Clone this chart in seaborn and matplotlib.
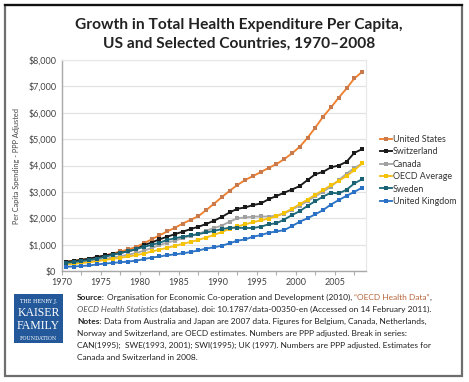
import numpy as np
import pandas as pd
import matplotlib
matplotlib.use("Agg")
import matplotlib.pyplot as plt
import seaborn as sns
from matplotlib.patches import Rectangle
from matplotlib.lines import Line2D

# values (US$ per capita, PPP adjusted)
years = list(range(1970, 2009))
united_states = [360, 390, 430, 470, 520, 590, 660, 740, 820, 910,
                 1050, 1200, 1350, 1500, 1640, 1800, 1940, 2080, 2310, 2550,
                 2800, 3040, 3260, 3450, 3600, 3750, 3910, 4050, 4240, 4460,
                 4710, 5050, 5440, 5850, 6200, 6570, 6920, 7300, 7550]
switzerland = [350, 380, 420, 470, 530, 590, 640, 690, 750, 820,
               980, 1080, 1200, 1300, 1400, 1490, 1590, 1680, 1780, 1910,
               2050, 2220, 2360, 2410, 2500, 2560, 2720, 2840, 2970, 3090,
               3220, 3450, 3670, 3760, 3930, 4000, 4140, 4480, 4620]
canada = [290, 310, 340, 360, 400, 460, 510, 560, 620, 680,
          770, 870, 980, 1080, 1150, 1250, 1330, 1400, 1530, 1630,
          1720, 1870, 2000, 2030, 2060, 2070, 2060, 2100, 2180, 2330,
          2480, 2650, 2830, 3010, 3200, 3440, 3690, 3900, 4080]
oecd_average = [250, 270, 300, 330, 370, 420, 460, 500, 550, 600,
                660, 740, 810, 880, 950, 1030, 1100, 1180, 1270, 1370,
                1480, 1600, 1690, 1770, 1850, 1920, 1990, 2070, 2200, 2360,
                2530, 2710, 2890, 3070, 3250, 3420, 3600, 3820, 4080]
sweden = [310, 340, 380, 420, 470, 540, 610, 680, 750, 830,
          910, 990, 1070, 1180, 1240, 1300, 1350, 1400, 1460, 1520,
          1590, 1640, 1640, 1630, 1630, 1680, 1770, 1810, 1950, 2120,
          2270, 2470, 2650, 2820, 2970, 2940, 3080, 3320, 3480]
united_kingdom = [160, 170, 190, 210, 250, 280, 310, 330, 360, 390,
                  450, 510, 550, 600, 630, 670, 720, 780, 850, 900,
                  960, 1050, 1150, 1200, 1300, 1360, 1450, 1500, 1550, 1700,
                  1870, 2000, 2150, 2310, 2520, 2690, 2850, 3000, 3160]

countries = ["United States", "Switzerland", "Canada", "OECD Average", "Sweden", "United Kingdom"]
series = [united_states, switzerland, canada, oecd_average, sweden, united_kingdom]
line_colors = ["#f0812e", "#1a1a1a", "#a8a8a8", "#f3bf1c", "#1e6b7c", "#2e75c6"]
marker_colors = ["#c97a4c", "#1a1a1a", "#a0a0a0", "#f5c400", "#1b6174", "#2a70c4"]

year_ticks = [1970, 1975, 1980, 1985, 1990, 1995, 2000, 2005]
y_ticks = [0, 1000, 2000, 3000, 4000, 5000, 6000, 7000, 8000]

df = pd.DataFrame({
    "year": years * len(countries),
    "spend": np.concatenate(series),
    "country": np.repeat(countries, len(years)),
})

plt.rcParams["font.family"] = ["Lato", "DejaVu Sans"]

fig = plt.figure(figsize=(4.69, 3.82), dpi=100)
ax = fig.add_axes([62 / 469, 1 - 271 / 382, (366 - 62) / 469, (271 - 60) / 382])

sns.lineplot(data=df, x="year", y="spend", hue="country", hue_order=countries,
             palette=dict(zip(countries, line_colors)), marker="s", markersize=2.3,
             markeredgewidth=0, linewidth=1.35, legend=False, ax=ax)

for ln, mc in zip(ax.lines, marker_colors):
    ln.set_markerfacecolor(mc)

# axis cosmetics
ax.set_xlim(1969.5, 2008.5)
ax.set_ylim(0, 8000)
ax.set_xticks([y - 0.5 for y in year_ticks])
ax.set_xticklabels([str(y) for y in year_ticks])
ax.set_xticks([y + 2.0 for y in year_ticks], minor=True)
ax.set_yticks(y_ticks)
ax.set_yticklabels(["${:,}".format(v) for v in y_ticks])
ax.tick_params(axis="x", which="both", length=3, width=0.8, color="#b0b0b0",
               labelsize=6.5, labelcolor="#444444", pad=2)
ax.tick_params(axis="y", length=0, labelsize=6.5, labelcolor="#444444", pad=4)
ax.grid(axis="y", color="#e2e2e2", linewidth=0.9)
ax.set_axisbelow(True)
for side in ["left", "bottom"]:
    ax.spines[side].set_color("#a8a8a8")
    ax.spines[side].set_linewidth(1.0)
for side in ["top", "right"]:
    ax.spines[side].set_color("#e8e8e8")
    ax.spines[side].set_linewidth(0.9)
ax.set_xlabel("")
ax.set_ylabel("Per Capita Spending - PPP Adjusted", fontsize=5.3, color="#444444", labelpad=6)

# legend on the right
handles = [Line2D([0], [0], color=c, marker="s", markersize=2.3, markeredgewidth=0,
                  markerfacecolor=m, linewidth=1.35) for c, m in zip(line_colors, marker_colors)]
fig.legend(handles, countries, loc="upper left", bbox_to_anchor=(372 / 469, 1 - 127 / 382),
           frameon=False, fontsize=6.4, labelspacing=0.38, handlelength=1.35,
           handletextpad=0.1, labelcolor="#333333")

# title
fig.text(0.51, 1 - 25 / 382, "Growth in Total Health Expenditure Per Capita,",
         ha="center", va="center", fontsize=11.2, fontweight="bold", color="#222222")
fig.text(0.51, 1 - 44 / 382, "US and Selected Countries, 1970\u20132008",
         ha="center", va="center", fontsize=11.2, fontweight="bold", color="#222222")

# frame around the whole figure
fig.patches.append(Rectangle((5 / 469, 6 / 382), 457 / 469, 371 / 382, transform=fig.transFigure,
                             fill=False, edgecolor="#6e6e6e", linewidth=1.6))
fig.lines.append(Line2D([5 / 469, 462 / 469], [1 - 5 / 382, 1 - 5 / 382],
                        transform=fig.transFigure, color="#111111", linewidth=1.6))

# logo
fig.patches.append(Rectangle((14 / 469, 1 - 343 / 382), 49 / 469, 49 / 382,
                             transform=fig.transFigure, facecolor="#23599b", edgecolor="none"))
logo_x = 38.5 / 469
fig.text(logo_x, 1 - 301 / 382, "THE HENRY J.", ha="center", va="center", fontsize=3.6,
         color="white", family="DejaVu Serif")
fig.text(logo_x, 1 - 313 / 382, "KAISER", ha="center", va="center", fontsize=8.5,
         color="white", family="Liberation Serif")
fig.text(logo_x, 1 - 326 / 382, "FAMILY", ha="center", va="center", fontsize=8.5,
         color="white", family="Liberation Serif")
fig.text(logo_x, 1 - 338 / 382, "FOUNDATION", ha="center", va="center", fontsize=3.6,
         color="white", family="DejaVu Serif")

# source / notes block, pieces chained one after the other
note_lines = [
    [("Source:", {"fontweight": "bold"}),
     (" Organisation for Economic Co-operation and Development (2010),", {}),
     (" \u201cOECD Health Data\u201d", {"color": "#b8643a"}),
     (",", {})],
    [("OECD Health Statistics", {"style": "italic", "color": "#555555"}),
     (" (database). doi: 10.1787/data-00350-en (Accessed on 14 February 2011).", {})],
    [("Notes:", {"fontweight": "bold"}),
     (" Data from Australia and Japan are 2007 data. Figures for Belgium, Canada, Netherlands,", {})],
    [("Norway and Switzerland, are OECD estimates. Numbers are PPP adjusted. Break in series:", {})],
    [("CAN(1995);  SWE(1993, 2001); SWI(1995); UK (1997). Numbers are PPP adjusted. Estimates for", {})],
    [("Canada and Switzerland in 2008.", {})],
]
for i, pieces in enumerate(note_lines):
    y = 1 - (300 + i * 12) / 382
    prev = None
    for txt, kw in pieces:
        style = {"fontsize": 6.05, "color": "#222222"}
        style.update(kw)
        lead = txt.startswith(" ")
        txt = txt.lstrip(" ")
        if prev is None:
            prev = fig.text(77 / 469, y, txt, ha="left", va="baseline", **style)
        else:
            prev = ax.annotate(txt, xy=(1, 0), xycoords=prev, xytext=(1.6 if lead else 0, 0),
                               textcoords="offset points", ha="left", va="bottom",
                               annotation_clip=False, **style)

fig.savefig("out.png", dpi=100)
